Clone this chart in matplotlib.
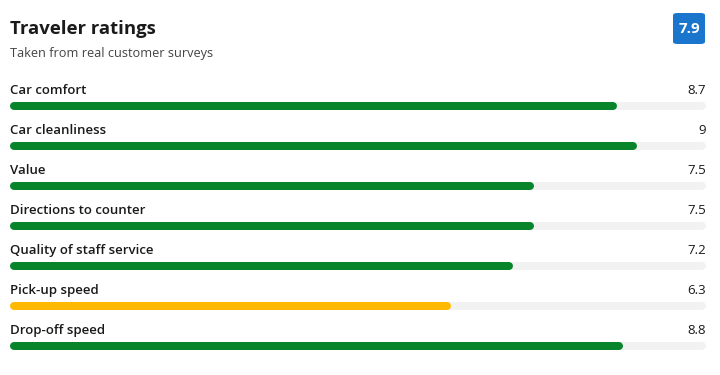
import matplotlib
matplotlib.use("Agg")
import matplotlib.pyplot as plt
from matplotlib.patches import FancyBboxPatch

categories = ["Car comfort", "Car cleanliness", "Value", "Directions to counter",
              "Quality of staff service", "Pick-up speed", "Drop-off speed"]
scores = [8.7, 9, 7.5, 7.5, 7.2, 6.3, 8.8]
score_labels = ["8.7", "9", "7.5", "7.5", "7.2", "6.3", "8.8"]
overall = "7.9"
title = "Traveler ratings"
subtitle = "Taken from real customer surveys"
max_score = 10

GREEN = "#08852a"
ORANGE = "#ffb900"
TRACK = "#f2f2f2"
BLUE = "#1a75cc"
FONT = ["Open Sans", "DejaVu Sans"]

W, H = 720, 375
fig = plt.figure(figsize=(W / 100, H / 100), dpi=100)
fig.patch.set_facecolor("white")

ax = fig.add_axes([14 / W, 0, 688 / W, 1])
ax.set_xlim(0, max_score)
ax.set_ylim((H - 106.5) / 40, -106.5 / 40)
ax.axis("off")

lw = 8 * 72 / 100  # 8 px in points
for i, (cat, s, lab) in enumerate(zip(categories, scores, score_labels)):
    color = ORANGE if s < 7 else GREEN
    ax.plot([0, max_score], [i, i], color=TRACK, lw=lw, solid_capstyle="round",
            zorder=1, clip_on=False)
    ax.plot([0, s], [i, i], color=color, lw=lw, solid_capstyle="round",
            zorder=2, clip_on=False)
    ax.text(-4 / 68.8, i - 0.40, cat, ha="left", va="center", fontsize=9.5,
            family=FONT, color="#1a1a1a", fontweight="semibold")
    ax.text(max_score + 4 / 68.8, i - 0.40, lab, ha="right", va="center", fontsize=9.5,
            family=FONT, color="#1a1a1a")

fig.text(10 / W, 1 - 29 / H, title, ha="left", va="center", fontsize=13.3,
         fontweight="bold", family=FONT, color="#1a1a1a")
fig.text(10 / W, 1 - 53 / H, subtitle, ha="left", va="center", fontsize=9.2,
         family=FONT, color="#444444")

badge = FancyBboxPatch((673 / W, 1 - 44 / H), 32 / W, 31 / H,
                       boxstyle="round,pad=0,rounding_size=0.006",
                       transform=fig.transFigure, facecolor=BLUE, edgecolor="none")
fig.patches.append(badge)
fig.text(689 / W, 1 - 29 / H, overall, ha="center", va="center", fontsize=11,
         fontweight="bold", family=FONT, color="white")

fig.savefig("out.png", dpi=100, facecolor="white")
